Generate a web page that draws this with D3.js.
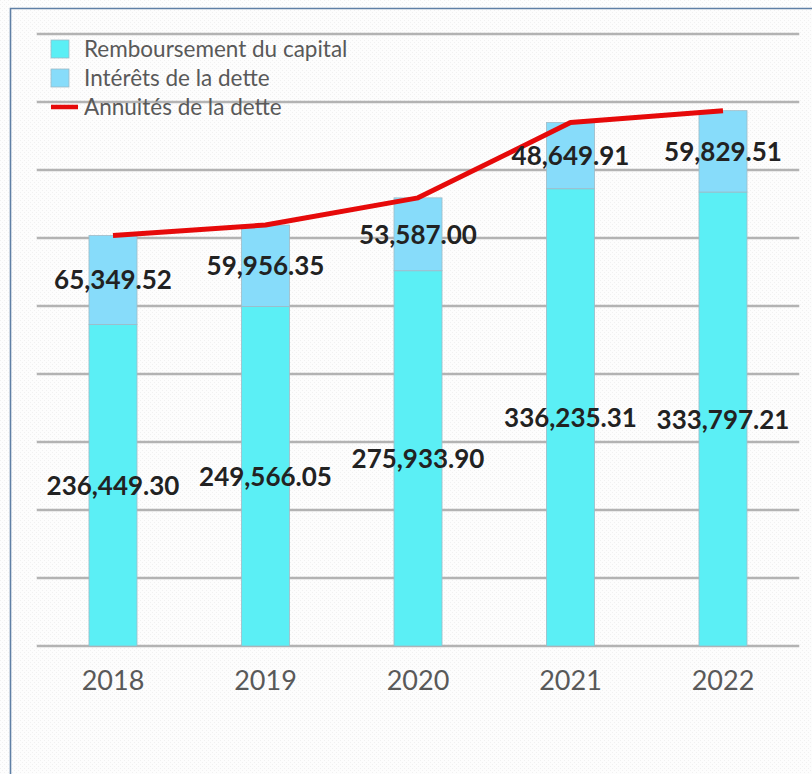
<!DOCTYPE html>
<html><head><meta charset="utf-8">
<script src="https://cdn.jsdelivr.net/npm/d3@7"></script>
<style>html,body{margin:0;padding:0;background:#fff;}svg{display:block;}</style>
</head><body>
<script>
const years = ["2018","2019","2020","2021","2022"];
const capital = [236449.30, 249566.05, 275933.90, 336235.31, 333797.21];
const interets = [65349.52, 59956.35, 53587.00, 48649.91, 59829.51];
const annuites = [301798.82, 309522.40, 329520.90, 384885.22, 393626.72];
const yTicks = [0,50000,100000,150000,200000,250000,300000,350000,400000,450000];
const legendLabels = ["Remboursement du capital","Intérêts de la dette","Annuités de la dette"];

const W = 812, H = 774;
const cCap = "#5BEFF5", cInt = "#87DCFA", cLine = "#E60A0A";
const svg = d3.select("body").append("svg").attr("width", W).attr("height", H);

const defs = svg.append("defs");
const pat = defs.append("pattern").attr("id","dots").attr("width",4).attr("height",4).attr("patternUnits","userSpaceOnUse");
pat.append("rect").attr("width",4).attr("height",4).attr("fill","#fdfdfd");
pat.append("rect").attr("x",0).attr("y",0).attr("width",1).attr("height",1).attr("fill","#f1f1f1");
pat.append("rect").attr("x",2).attr("y",2).attr("width",1).attr("height",1).attr("fill","#f1f1f1");
svg.append("rect").attr("width",W).attr("height",H).attr("fill","url(#dots)");

// frame
svg.append("path").attr("d","M10.5,774 V8.5 H812").attr("fill","none").attr("stroke","#5F7FA5").attr("stroke-width",1.6);

const x = d3.scaleBand().domain(years).range([36.75, 799.25]).paddingInner(0.685).paddingOuter(0.3425);
const y = d3.scaleLinear().domain([0, 450000]).range([646, 34]);
const cx = d => x(d) + x.bandwidth()/2;

// gridlines
svg.append("g").selectAll("line").data(yTicks).join("line")
  .attr("x1", 36.75).attr("x2", 799.25)
  .attr("y1", d => y(d)).attr("y2", d => y(d))
  .attr("stroke", "#b3b3b3").attr("stroke-width", 2.5);

// bars
const g = svg.append("g");
g.selectAll(".cap").data(years).join("rect")
  .attr("x", d => x(d)).attr("width", x.bandwidth())
  .attr("y", (d,i) => y(capital[i])).attr("height", (d,i) => y(0) - y(capital[i]))
  .attr("fill", cCap).attr("stroke", "#9fbac6").attr("stroke-width", 0.8);
g.selectAll(".int").data(years).join("rect")
  .attr("x", d => x(d)).attr("width", x.bandwidth())
  .attr("y", (d,i) => y(capital[i] + interets[i])).attr("height", (d,i) => y(capital[i]) - y(capital[i] + interets[i]))
  .attr("fill", cInt).attr("stroke", "#9fbac6").attr("stroke-width", 0.8);

// line
const line = d3.line().x((d,i) => cx(years[i])).y(d => y(d));
svg.append("path").datum(annuites).attr("d", line).attr("fill","none")
  .attr("stroke", cLine).attr("stroke-width", 5).attr("stroke-linejoin","round");

// data labels
const fmt = d3.format(",.2f");
const lab = svg.append("g").attr("font-family","Lato, sans-serif").attr("font-weight","bold")
  .attr("font-size", 26).attr("fill","#222222").attr("text-anchor","middle");
lab.selectAll(".lc").data(years).join("text")
  .attr("x", d => cx(d))
  .attr("y", (d,i) => (y(0) + y(capital[i]))/2 + 9.5)
  .text((d,i) => fmt(capital[i]));
lab.selectAll(".li").data(years).join("text")
  .attr("x", d => cx(d))
  .attr("y", (d,i) => (y(capital[i]) + y(capital[i]+interets[i]))/2 + 9.5)
  .text((d,i) => fmt(interets[i]));

// x axis labels
svg.append("g").selectAll("text").data(years).join("text")
  .attr("x", d => cx(d)).attr("y", 690)
  .attr("text-anchor","middle").attr("font-family","Lato, sans-serif")
  .attr("font-size", 27).attr("fill","#595959").text(d => d);

// legend
const lg = svg.append("g").attr("font-family","Lato, sans-serif").attr("font-size",22.5).attr("fill","#595959");
lg.append("rect").attr("x",51).attr("y",40).attr("width",18).attr("height",18).attr("fill",cCap).attr("stroke","#9fbac6").attr("stroke-width",0.8);
lg.append("rect").attr("x",51).attr("y",69).attr("width",18).attr("height",18).attr("fill",cInt).attr("stroke","#9fbac6").attr("stroke-width",0.8);
lg.append("line").attr("x1",51).attr("x2",78).attr("y1",107).attr("y2",107).attr("stroke",cLine).attr("stroke-width",4.5);
lg.selectAll("text").data(legendLabels).join("text")
  .attr("x",84).attr("y",(d,i)=>57 + i*29).text(d=>d);
</script>
</body></html>
